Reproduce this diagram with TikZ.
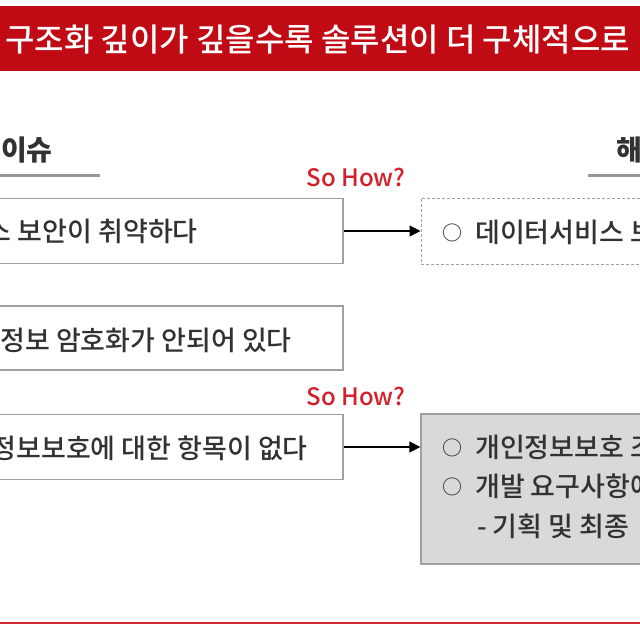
\documentclass[tikz,border=0pt]{standalone}
\usepackage{fontspec}
\setmainfont{Noto Sans CJK KR Medium}
\usetikzlibrary{arrows.meta}
\definecolor{bannerred}{RGB}{192,10,20}
\definecolor{linered}{RGB}{214,40,48}
\definecolor{howred}{RGB}{212,32,44}
\definecolor{txtgray}{RGB}{50,50,50}
\definecolor{boxline}{RGB}{160,160,160}
\definecolor{boxfill}{RGB}{217,217,217}
\definecolor{ulgray}{RGB}{150,150,150}
\tikzset{
  issuebox/.style={draw=boxline, line width=1.3pt, fill=white, inner sep=0pt},
  dashbox/.style={draw=boxline, line width=1pt, dash pattern=on 3pt off 2pt, inner sep=0pt},
  graybox/.style={draw=boxline, line width=1.3pt, fill=boxfill, inner sep=0pt},
  txt/.style={text=txtgray, font=\fontsize{27}{31}\selectfont, inner sep=0pt, anchor=west},
  bullet/.style={text=txtgray, font=\fontsize{20}{22}\selectfont, inner sep=0pt},
  hdr/.style={text=txtgray, font=\fontsize{28}{32}\selectfont\bfseries, inner sep=0pt, anchor=west},
  howtxt/.style={text=howred, font=\fontsize{24}{28}\selectfont, inner sep=0pt},
  banner/.style={text=white, font=\fontsize{32}{36}\selectfont, inner sep=0pt},
  arr/.style={draw=black, line width=1.2pt, -{Triangle[length=11pt,width=11pt]}},
  uline/.style={draw=ulgray, line width=3pt},
}
\begin{document}
\begin{tikzpicture}[x=1pt,y=-1pt]
\useasboundingbox (0,0) rectangle (640,640);
\clip (0,0) rectangle (640,640);
\fill[white] (0,0) rectangle (640,640);
% banner
\fill[bannerred] (-5,6) rectangle (645,71);
\node[banner, anchor=west] (title) at (5,40) {구조화 깊이가 깊을수록 솔루션이 더 구체적으로};
% headers
\node[hdr] (h1) at (1,150) {이슈};
\coordinate (u1a) at (-5,175);
\coordinate (u1b) at (100,175);
\draw[uline] (u1a) -- (u1b);
\node[hdr] (h2) at (616,150) {해};
\coordinate (u2a) at (588,175);
\coordinate (u2b) at (645,175);
\draw[uline] (u2a) -- (u2b);
% So How labels
\node[howtxt] (how1) at (356,177) {So How?};
\node[howtxt] (how2) at (356,396) {So How?};
% issue boxes
\node[issuebox, minimum width=403pt, minimum height=65pt] (b1) at (141.5,231) {};
\node[txt, anchor=east] (t1) at (198,231) {스 보안이 취약하다};
\node[issuebox, minimum width=403pt, minimum height=64pt] (b2) at (141.5,338) {};
\node[txt, anchor=east] (t2) at (292,340) {정보 암호화가 안되어 있다};
\node[issuebox, minimum width=403pt, minimum height=65pt] (b3) at (141.5,447) {};
\node[txt, anchor=east] (t3) at (308,448) {정보보호에 대한 항목이 없다};
% solution boxes
\node[dashbox, minimum width=279pt, minimum height=66pt] (s1) at (560.5,231) {};
\node[bullet] (c1) at (452,233) {○};
\node[txt] (st1) at (475,232) {데이터서비스 보};
\node[graybox, minimum width=279pt, minimum height=150pt] (s3) at (560.5,489) {};
\node[bullet] (c2) at (452,448) {○};
\node[txt] (st2) at (475,447) {개인정보보호 조};
\node[bullet] (c3) at (452,487) {○};
\node[txt] (st3) at (475,486) {개발 요구사항에};
\node[txt] (st4) at (477,526) {- 기획 및 최종 };
% arrows
\draw[arr] (b1.east) -- (s1.west);
\draw[arr] (b3.east) -- (s3.west |- b3.east);
% bottom rule
\coordinate (r1) at (-5,623);
\coordinate (r2) at (645,623);
\draw[draw=linered, line width=2.5pt] (r1) -- (r2);
\end{tikzpicture}
\end{document}
